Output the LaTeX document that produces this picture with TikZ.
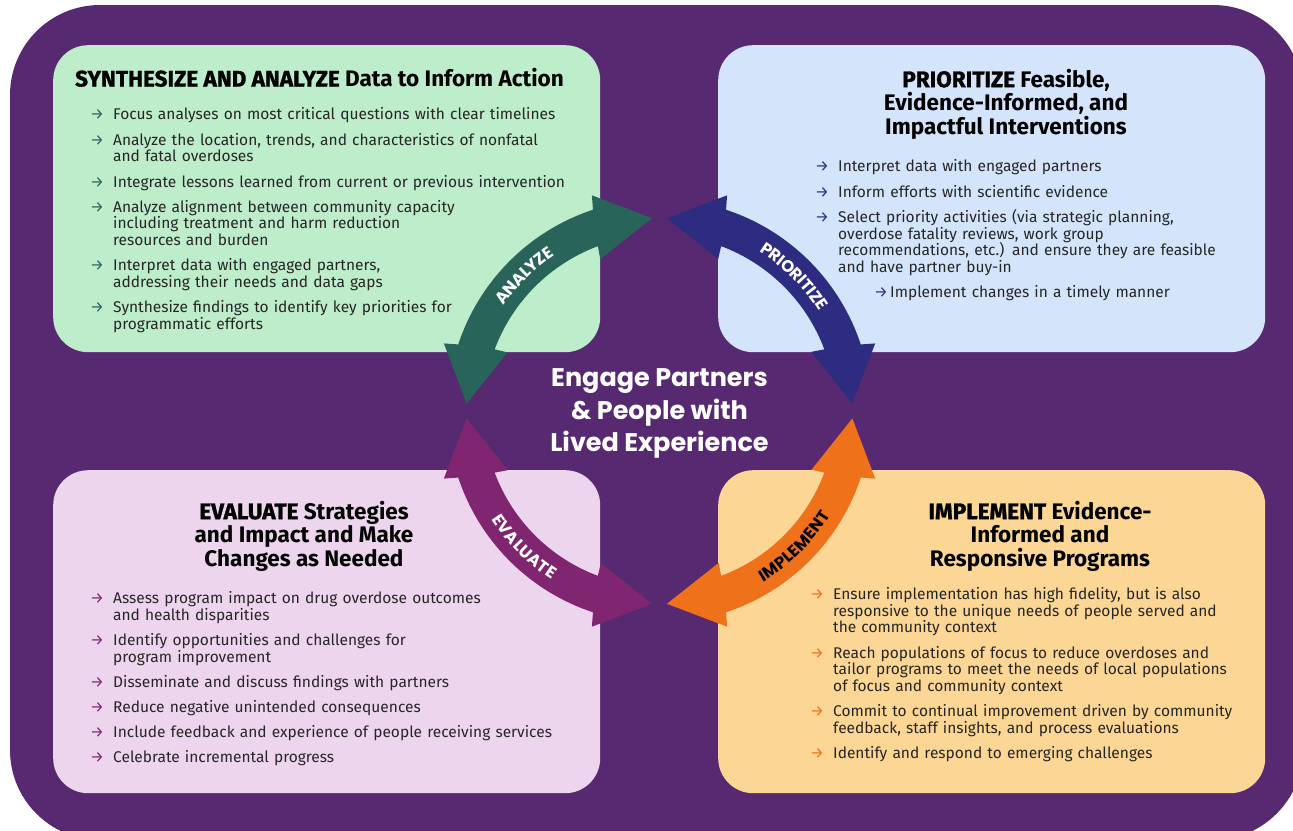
\documentclass[tikz,border=0pt]{standalone}
\usepackage{fontspec}
\setmainfont{Fira Sans}
\newfontfamily\poppins{Poppins}
\newfontfamily\firaheavy{Fira Sans}[BoldFeatures={FakeBold=1.3}]
\usetikzlibrary{calc,decorations.text}

\definecolor{bgpurple}{HTML}{572970}
\definecolor{boxgreen}{HTML}{BDEDCA}
\definecolor{boxblue}{HTML}{D4E5FB}
\definecolor{boxpink}{HTML}{EED5EE}
\definecolor{boxorange}{HTML}{FCD695}
\definecolor{arrgreen}{HTML}{28645A}
\definecolor{arrblue}{HTML}{2E2C81}
\definecolor{arrpurple}{HTML}{802671}
\definecolor{arrorange}{HTML}{EF7119}
\definecolor{textgray}{HTML}{262626}

% one bullet line of a box list
\newcommand{\bitem}[2]{\par\hangindent=23pt\hangafter=1\noindent\makebox[23pt][l]{\textcolor{#1}{→}}#2\par}
\newcommand{\capsword}[1]{{\firaheavy\bfseries #1}}

\begin{document}
\begin{tikzpicture}[x=1pt, y=1pt,
    box/.style={fill=#1, rounded corners=35pt, minimum width=547pt, inner sep=0pt, anchor=north west},
    boxtitle/.style={font=\fontsize{22.5}{23.5}\selectfont\bfseries, align=center, inner sep=0pt},
    boxlist/.style={font=\fontsize{15.5}{16.7}\selectfont, text=textgray, text width=520pt, align=left, inner sep=0pt, anchor=north west},
    arclabel/.style={decorate, decoration={text along path, text align=center, raise=-6pt, text={|\poppins\bfseries\fontsize{16.5}{16.5}\selectfont|#1}}}]
\useasboundingbox (0,0) rectangle (1293,-830);
\clip (0,0) rectangle (1293,-830);
\fill[bgpurple, rounded corners=90pt] (10,-5) rectangle (1303,-840);

% the four boxes
\node[box=boxgreen, minimum height=307pt] (synth) at (53,-45) {};
\node[box=boxblue, minimum height=307pt] (prio) at (718,-45) {};
\node[box=boxpink, minimum height=323pt] (eval) at (53,-470) {};
\node[box=boxorange, minimum height=323pt] (impl) at (718,-470) {};

% titles
\node[boxtitle, anchor=base west] (synthtitle) at (75,-86.5) {\capsword{SYNTHESIZE AND ANALYZE} Data to Inform Action};
\node[boxtitle] (priotitle) at (1006,-104) {\capsword{PRIORITIZE} Feasible,\\ Evidence-Informed, and\\ Impactful Interventions};
\node[boxtitle] (evaltitle) at (304,-536) {\capsword{EVALUATE} Strategies\\ and Impact and Make\\ Changes as Needed};
\node[boxtitle] (impltitle) at (1040,-536) {\capsword{IMPLEMENT} Evidence-\\ Informed and\\ Responsive Programs};

% lists
\node[boxlist] (synthlist) at (90,-94.5) {\setlength{\parskip}{8.5pt}%
  \bitem{arrgreen}{Focus analyses on most critical questions with clear timelines}
  \bitem{arrgreen}{Analyze the location, trends, and characteristics of nonfatal\newline and fatal overdoses}
  \bitem{arrgreen}{Integrate lessons learned from current or previous intervention}
  \bitem{arrgreen}{Analyze alignment between community capacity\newline including treatment and harm reduction\newline resources and burden}
  \bitem{arrgreen}{Interpret data with engaged partners,\newline addressing their needs and data gaps}
  \bitem{arrgreen}{Synthesize findings to identify key priorities for\newline programmatic efforts}};
\node[boxlist] (priolist) at (815,-146.5) {\setlength{\parskip}{8.5pt}%
  \bitem{arrblue}{Interpret data with engaged partners}
  \bitem{arrblue}{Inform efforts with scientific evidence}
  \bitem{arrblue}{Select priority activities (via strategic planning,\newline overdose fatality reviews, work group\newline recommendations, etc.) and ensure they are feasible\newline and have partner buy-in}
  \noindent\hspace*{59pt}\makebox[16pt][l]{\textcolor{arrblue}{→}}Implement changes in a timely manner};
\node[boxlist] (evallist) at (90,-578) {\setlength{\parskip}{8.5pt}%
  \bitem{arrpurple}{Assess program impact on drug overdose outcomes\newline and health disparities}
  \bitem{arrpurple}{Identify opportunities and challenges for\newline program improvement}
  \bitem{arrpurple}{Disseminate and discuss findings with partners}
  \bitem{arrpurple}{Reduce negative unintended consequences}
  \bitem{arrpurple}{Include feedback and experience of people receiving services}
  \bitem{arrpurple}{Celebrate incremental progress}};
\node[boxlist] (impllist) at (810,-574) {\setlength{\parskip}{8.5pt}%
  \bitem{arrorange}{Ensure implementation has high fidelity, but is also\newline responsive to the unique needs of people served and\newline the community context}
  \bitem{arrorange}{Reach populations of focus to reduce overdoses and\newline tailor programs to meet the needs of local populations\newline of focus and community context}
  \bitem{arrorange}{Commit to continual improvement driven by community\newline feedback, staff insights, and process evaluations}
  \bitem{arrorange}{Identify and respond to emerging challenges}};

% ring of arrows round the centre
\begin{scope}[shift={(659.5,-411)}]
  \foreach \col/\r in {arrgreen/0, arrblue/270, arrpurple/90, arrorange/180}{
    \fill[\col] (92.2+\r:193) -- (107.4+\r:226) -- (108.3+\r:212)
      arc[start angle=108.3+\r, end angle=161.7+\r, radius=212]
      -- (162.6+\r:226) -- (177.8+\r:193) -- (158.9+\r:163) -- (159.5+\r:176)
      arc[start angle=159.5+\r, end angle=110.5+\r, radius=176]
      -- (111.3+\r:163) -- cycle;
  }
  \path[arclabel=ANALYZE, decoration={text color=white}] (165:194) arc[start angle=165, end angle=105, radius=194];
  \path[arclabel=PRIORITIZE, decoration={text color=white}] (75:194) arc[start angle=75, end angle=15, radius=194];
  \path[arclabel=EVALUATE, decoration={text color=white}] (195:194) arc[start angle=195, end angle=255, radius=194];
  \path[arclabel=IMPLEMENT, decoration={text color=black}] (285:194) arc[start angle=285, end angle=345, radius=194];
\end{scope}

\node[align=center, text=white, font=\poppins\bfseries\fontsize{25.5}{32.5}\selectfont] (engage) at (659.5,-413.5) {Engage Partners\\ \& People with\\ Lived Experience};
\end{tikzpicture}
\end{document}
